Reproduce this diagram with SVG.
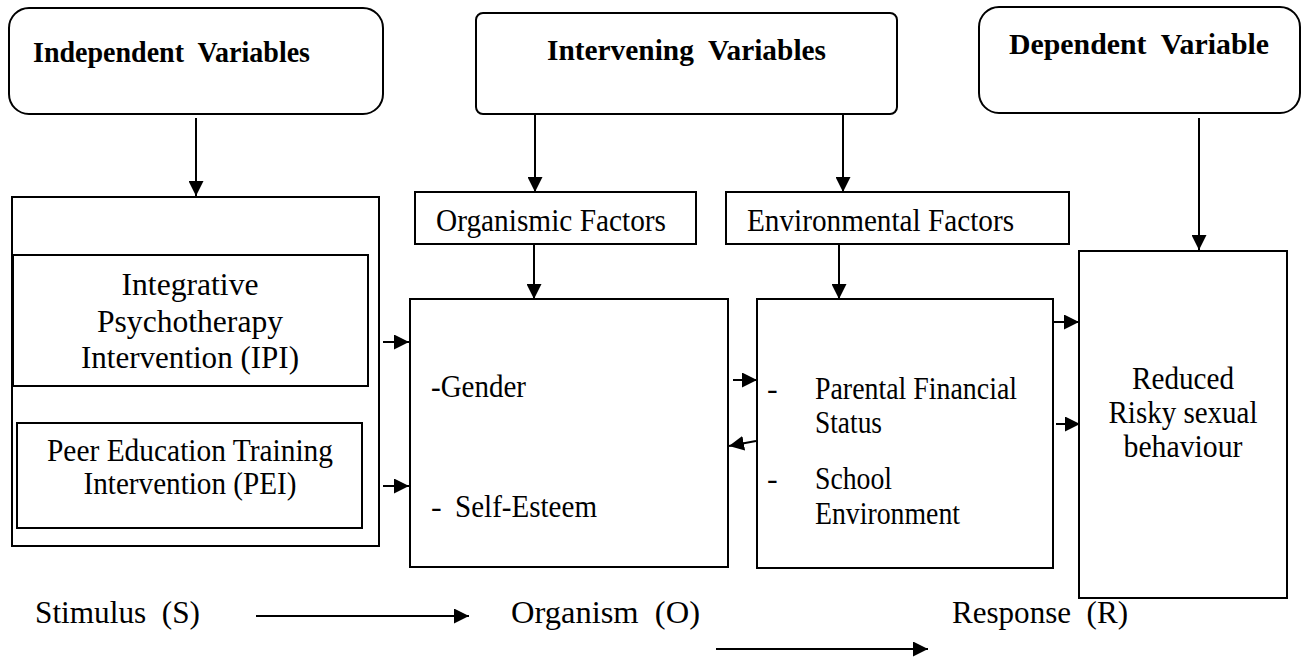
<svg xmlns="http://www.w3.org/2000/svg" width="1305" height="658" viewBox="0 0 1305 658">
<defs>
<style>
.box{fill:#fff;stroke:#000;stroke-width:2}
.ln{fill:none;stroke:#000;stroke-width:2}
.h{font-family:"Liberation Serif","Times New Roman",serif;font-weight:bold;font-size:30px;fill:#000;white-space:pre}
.t{font-family:"Liberation Serif","Times New Roman",serif;font-size:32px;fill:#000;white-space:pre}
.c{text-anchor:middle}
</style>
<marker id="ah" markerUnits="userSpaceOnUse" markerWidth="16" markerHeight="15" refX="15" refY="7.5" orient="auto">
<path d="M0,0 L15,7.5 L0,15 z" fill="#000"/>
</marker>
</defs>
<rect width="1305" height="658" fill="#fff"/>

<g id="independent">
<rect class="box" x="9" y="8" width="374" height="106" rx="20"/>
<text class="h" x="33" y="62" textLength="277" lengthAdjust="spacingAndGlyphs" xml:space="preserve">Independent  Variables</text>
</g>
<g id="intervening">
<rect class="box" x="476" y="13" width="421" height="101" rx="7"/>
<text class="h" x="547" y="60" textLength="279" lengthAdjust="spacingAndGlyphs" xml:space="preserve">Intervening  Variables</text>
</g>
<g id="dependent">
<rect class="box" x="979" y="7" width="321" height="106" rx="20"/>
<text class="h" x="1009" y="54" textLength="260" lengthAdjust="spacingAndGlyphs" xml:space="preserve">Dependent  Variable</text>
</g>

<g id="stimulus-group">
<rect class="box" x="12" y="197" width="367" height="349"/>
</g>
<g id="ipi">
<rect class="box" x="13" y="255" width="355" height="131"/>
<text class="t c" x="190" y="295" textLength="137" lengthAdjust="spacingAndGlyphs">Integrative</text>
<text class="t c" x="190" y="332" textLength="186" lengthAdjust="spacingAndGlyphs">Psychotherapy</text>
<text class="t c" x="190" y="368" textLength="218" lengthAdjust="spacingAndGlyphs">Intervention (IPI)</text>
</g>
<g id="pei">
<rect class="box" x="17" y="423" width="345" height="105"/>
<text class="t c" x="190" y="461" textLength="286" lengthAdjust="spacingAndGlyphs">Peer Education Training</text>
<text class="t c" x="190" y="494" textLength="213" lengthAdjust="spacingAndGlyphs">Intervention (PEI)</text>
</g>

<g id="organismic-factors">
<rect class="box" x="415" y="192" width="281" height="52"/>
<text class="t" x="436" y="231" textLength="230" lengthAdjust="spacingAndGlyphs">Organismic Factors</text>
</g>
<g id="environmental-factors">
<rect class="box" x="726" y="192" width="343" height="52"/>
<text class="t" x="747" y="231" textLength="267" lengthAdjust="spacingAndGlyphs">Environmental Factors</text>
</g>

<g id="organism">
<rect class="box" x="410" y="299" width="318" height="268"/>
<text class="t" x="431" y="397" textLength="95" lengthAdjust="spacingAndGlyphs">-Gender</text>
<text class="t" x="431" y="517">-</text>
<text class="t" x="455" y="517" textLength="142" lengthAdjust="spacingAndGlyphs">Self-Esteem</text>
</g>
<g id="environment">
<rect class="box" x="757" y="299" width="296" height="269"/>
<text class="t" x="767" y="399">-</text>
<text class="t" x="815" y="399" textLength="202" lengthAdjust="spacingAndGlyphs">Parental Financial</text>
<text class="t" x="815" y="433" textLength="67" lengthAdjust="spacingAndGlyphs">Status</text>
<text class="t" x="767" y="489">-</text>
<text class="t" x="815" y="489" textLength="77" lengthAdjust="spacingAndGlyphs">School</text>
<text class="t" x="815" y="524" textLength="145" lengthAdjust="spacingAndGlyphs">Environment</text>
</g>
<g id="response">
<rect class="box" x="1079" y="251" width="208" height="347"/>
<text class="t c" x="1183" y="389" textLength="102" lengthAdjust="spacingAndGlyphs">Reduced</text>
<text class="t c" x="1183" y="423" textLength="149" lengthAdjust="spacingAndGlyphs">Risky sexual</text>
<text class="t c" x="1183" y="457" textLength="119" lengthAdjust="spacingAndGlyphs">behaviour</text>
</g>

<g id="sor-labels">
<text class="t" x="35" y="623" textLength="165" lengthAdjust="spacingAndGlyphs" xml:space="preserve">Stimulus  (S)</text>
<text class="t" x="511" y="623" textLength="189" lengthAdjust="spacingAndGlyphs" xml:space="preserve">Organism  (O)</text>
<text class="t" x="952" y="623" textLength="176" lengthAdjust="spacingAndGlyphs" xml:space="preserve">Response  (R)</text>
</g>

<g id="connectors">
<line class="ln" x1="196" y1="118" x2="196" y2="196" marker-end="url(#ah)"/>
<line class="ln" x1="535" y1="115" x2="535" y2="192" marker-end="url(#ah)"/>
<line class="ln" x1="843" y1="115" x2="843" y2="192" marker-end="url(#ah)"/>
<line class="ln" x1="1199" y1="118" x2="1199" y2="250" marker-end="url(#ah)"/>
<line class="ln" x1="534" y1="245" x2="534" y2="299" marker-end="url(#ah)"/>
<line class="ln" x1="839" y1="245" x2="839" y2="299" marker-end="url(#ah)"/>
<line class="ln" x1="383" y1="342" x2="409" y2="342" marker-end="url(#ah)"/>
<line class="ln" x1="383" y1="486" x2="409" y2="486" marker-end="url(#ah)"/>
<line class="ln" x1="733" y1="380" x2="757" y2="380" marker-end="url(#ah)"/>
<line class="ln" x1="756" y1="441" x2="729" y2="446" marker-end="url(#ah)"/>
<line class="ln" x1="1054" y1="322" x2="1079" y2="322" marker-end="url(#ah)"/>
<line class="ln" x1="1056" y1="424" x2="1080" y2="424" marker-end="url(#ah)"/>
<line class="ln" x1="256" y1="616" x2="469" y2="616" marker-end="url(#ah)"/>
<line class="ln" x1="716" y1="649" x2="928" y2="649" marker-end="url(#ah)"/>
</g>
</svg>
